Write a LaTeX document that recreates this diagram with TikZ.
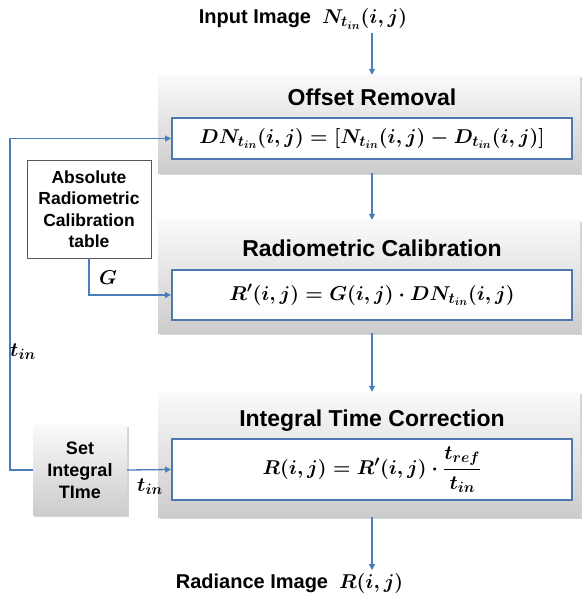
\RequirePackage{fix-cm}
\documentclass[tikz,border=0pt]{standalone}
\usepackage{amsmath}
\usepackage{fontspec}
\setsansfont{Liberation Sans}
\usetikzlibrary{shadows,arrows.meta}

\DeclareMathSizes{20}{20}{15}{11}

\definecolor{flowblue}{RGB}{74,126,187}
\definecolor{boxblue}{RGB}{79,120,175}

\tikzset{
  stagebox/.style={minimum width=422pt, inner sep=0pt, top color=gray!4, bottom color=gray!40,
    drop shadow={opacity=0.35, shadow xshift=1.5pt, shadow yshift=-2pt}},
  formbox/.style={draw=boxblue, line width=2pt, fill=white, minimum width=400pt, inner sep=0pt},
  stagetitle/.style={font=\sffamily\bfseries\fontsize{23}{26}\selectfont},
  iotext/.style={font=\sffamily\bfseries\fontsize{20}{24}\selectfont},
  sidetext/.style={font=\sffamily\bfseries\fontsize{17.5}{21.5}\selectfont, align=center},
  mathtext/.style={font=\fontsize{20}{24}\selectfont\boldmath},
  flow/.style={draw=flowblue, line width=1.3pt, -{Triangle[length=6pt,width=6pt]}}
}

\begin{document}
\begin{tikzpicture}[x=1pt,y=-1pt]
  \useasboundingbox (0,0) rectangle (583,600);

  % three stages
  \node[stagebox, minimum height=98pt] (offset) at (369,124) {};
  \node[stagebox, minimum height=113pt] (radio) at (369,276.5) {};
  \node[stagebox, minimum height=125pt] (integral) at (369,454.5) {};

  \node[stagetitle] (offsettitle) at (372,97) {Offset Removal};
  \node[stagetitle] (radiotitle) at (372,248) {Radiometric Calibration};
  \node[stagetitle] (integraltitle) at (372,421) {Integral Time Correction};

  \node[formbox, minimum height=41pt, mathtext] (removal) at (372,138.5)
    {$DN_{t_{in}}(i,j) = \left[N_{t_{in}}(i,j) - D_{t_{in}}(i,j)\right]$};
  \node[formbox, minimum height=50pt, mathtext] (calib) at (372,295)
    {$R'(i,j) = G(i,j)\cdot DN_{t_{in}}(i,j)$};
  \node[formbox, minimum height=61pt, mathtext] (correct) at (372,469.5)
    {$R(i,j) = R'(i,j)\cdot \dfrac{t_{ref}}{t_{in}}$};

  % input / output
  \node[iotext] (inimage) at (255,19) {Input Image};
  \node[mathtext, anchor=base west] (inmath) at ([xshift=4pt]inimage.base east) {$N_{t_{in}}(i,j)$};
  \node[iotext] (outimage) at (252,583) {Radiance Image};
  \node[mathtext, anchor=base west] (outmath) at ([xshift=4pt]outimage.base east) {$R(i,j)$};

  % side boxes
  \node[draw=gray!70!black, fill=white, line width=0.8pt, minimum width=124pt, minimum height=98pt,
        inner sep=0pt, sidetext] (table) at (89,209) {Absolute\\Radiometric\\Calibration\\table};
  \node[stagebox, minimum width=94pt, minimum height=90pt, sidetext,
        font=\sffamily\bfseries\fontsize{18}{22}\selectfont] (settime) at (80,470)
    {Set\\Integral\\TIme};

  \coordinate (loop) at (10,470);

  % connectors
  \draw[flow] (inmath.south -| removal) -- (offset.north -| removal);
  \draw[flow] (offset.south -| removal) -- (radio.north -| removal);
  \draw[flow] (radio.south -| removal) -- (integral.north -| removal);
  \draw[flow] (integral.south -| removal) -- (outimage.north -| removal);

  \draw[flow] (table.south) |- (calib.west);
  \draw[flow] (settime.east) -- (correct.west);
  \draw[flow] (settime.west) -- (loop) |- (removal.west);

  \node[mathtext] (glabel) at (108,278) {$G$};
  \node[mathtext] (tinright) at (150,487) {$t_{in}$};
  \node[mathtext] (tinleft) at (23,352) {$t_{in}$};
\end{tikzpicture}
\end{document}
